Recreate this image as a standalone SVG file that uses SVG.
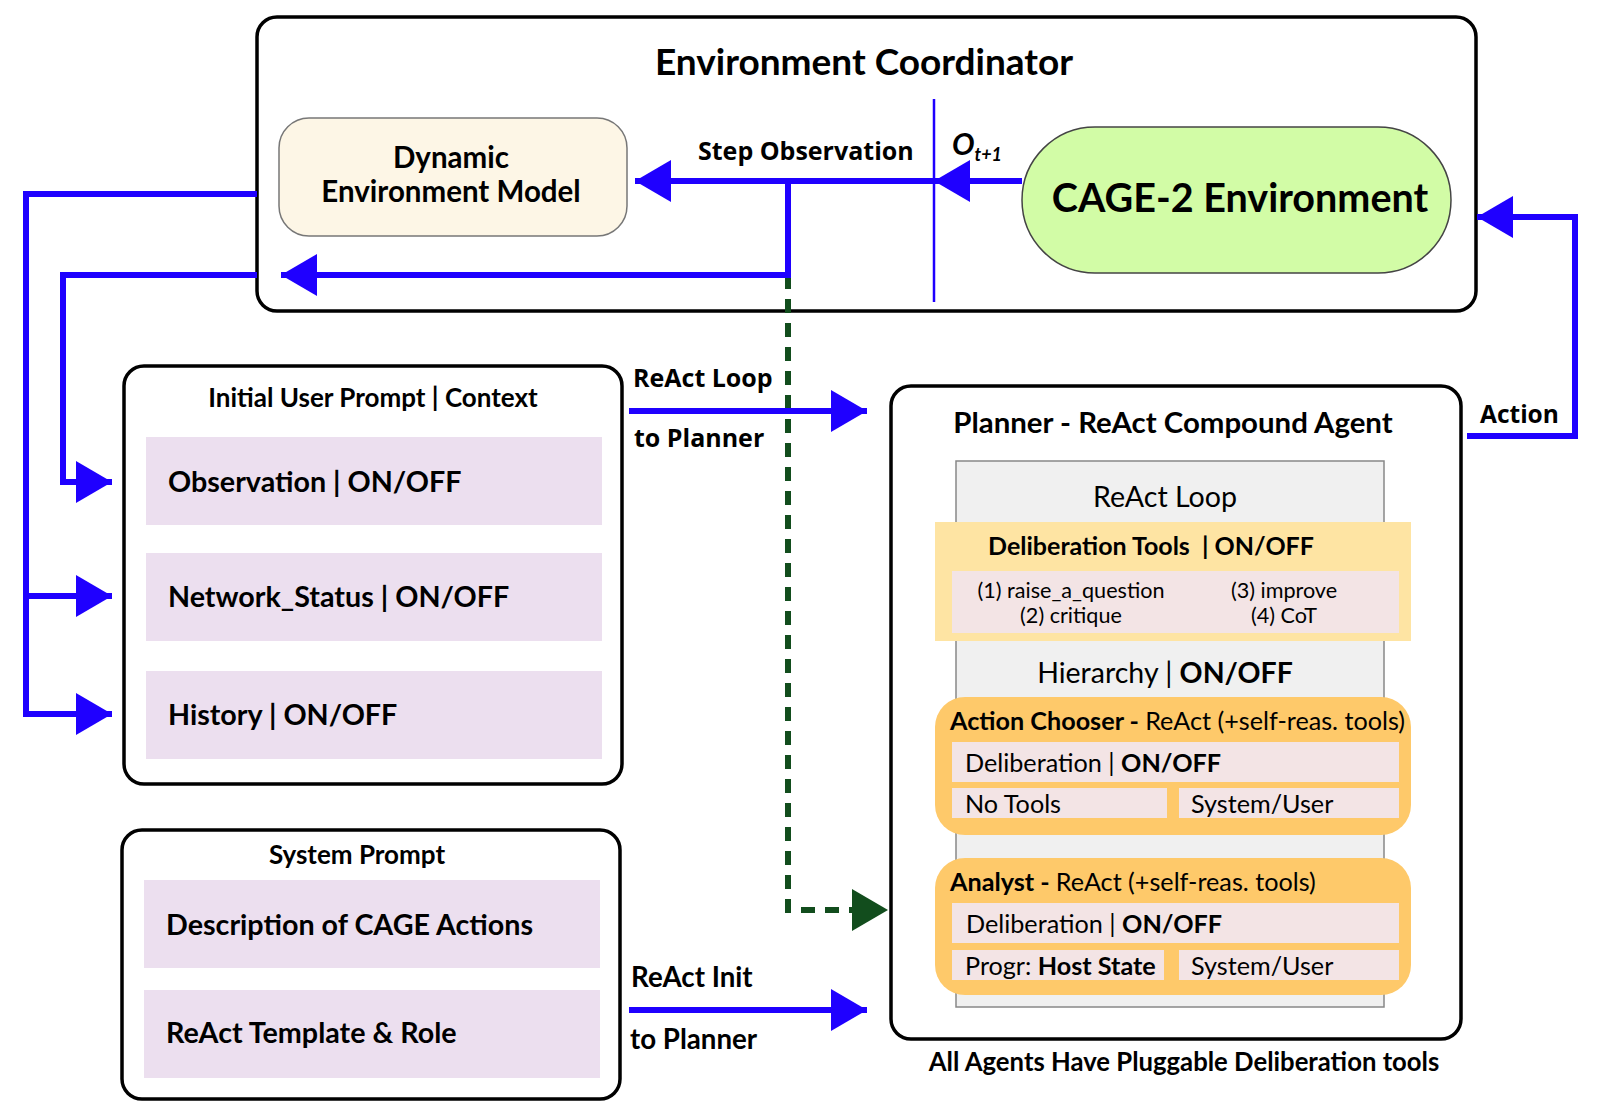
<svg xmlns="http://www.w3.org/2000/svg" width="1600" height="1115" viewBox="0 0 1600 1115">
<style>
.box{fill:#fff;stroke:#000;stroke-width:3.5}
.row{fill:#ecdfef}
.pink{fill:#f3e4e5}
.lato{font-family:Lato,"Open Sans",sans-serif}
.os{font-family:"Open Sans",Lato,sans-serif;font-weight:700}
.b{font-weight:700}
.conn{fill:none;stroke:#1f00ff;stroke-width:6}
.dash{fill:none;stroke:#124d1d;stroke-width:6;stroke-dasharray:14 10}
</style>
<defs>
<marker id="ah" viewBox="0 0 36 42" refX="36" refY="21" markerWidth="36" markerHeight="42" markerUnits="userSpaceOnUse" orient="auto"><path d="M0,0 L36,21 L0,42 Z" fill="#1f00ff"/></marker>
</defs>
<rect width="1600" height="1115" fill="#fff"/>

<g id="env-coordinator">
<rect class="box" x="257" y="17" width="1219" height="294" rx="20"/>
<text class="lato b" x="864" y="75" font-size="37" text-anchor="middle">Environment Coordinator</text>
<line x1="934" y1="99" x2="934" y2="302" stroke="#1f00ff" stroke-width="2.5"/>
<text class="lato b" x="952" y="155" font-size="30" font-style="italic">O<tspan font-size="18" dy="6">t+1</tspan></text>
<text class="os" x="698" y="160" font-size="25">Step Observation</text>
</g>

<g id="dynamic-env-model">
<rect x="279" y="118" width="348" height="118" rx="30" fill="#fdf6e6" stroke="#777" stroke-width="1.5"/>
<text class="lato b" x="451" y="168" font-size="29.5" text-anchor="middle">Dynamic</text>
<text class="lato b" x="451" y="202" font-size="29.5" text-anchor="middle">Environment Model</text>
</g>

<g id="cage2-env">
<rect x="1022" y="127" width="429" height="146" rx="73" fill="#d2fca6" stroke="#444" stroke-width="1.5"/>
<text class="lato b" x="1240" y="212" font-size="39.5" text-anchor="middle">CAGE-2 Environment</text>
</g>

<g id="initial-user-prompt">
<rect class="box" x="124" y="366" width="498" height="418" rx="20"/>
<text class="lato b" x="373" y="407" font-size="26" text-anchor="middle">Initial User Prompt | Context</text>
<rect class="row" x="146" y="437" width="456" height="88"/>
<text class="lato b" x="168" y="492" font-size="28.7">Observation | ON/OFF</text>
<rect class="row" x="146" y="553" width="456" height="88"/>
<text class="lato b" x="168" y="607" font-size="28.7">Network_Status | ON/OFF</text>
<rect class="row" x="146" y="671" width="456" height="88"/>
<text class="lato b" x="168" y="725" font-size="28.7">History | ON/OFF</text>
</g>

<g id="system-prompt">
<rect class="box" x="122" y="830" width="498" height="269" rx="20"/>
<text class="lato b" x="357" y="864" font-size="26" text-anchor="middle">System Prompt</text>
<rect class="row" x="144" y="880" width="456" height="88"/>
<text class="lato b" x="166" y="935" font-size="28.7">Description of CAGE Actions</text>
<rect class="row" x="144" y="990" width="456" height="88"/>
<text class="lato b" x="166" y="1043" font-size="28.7">ReAct Template &amp; Role</text>
</g>

<g id="planner">
<rect class="box" x="891" y="386" width="570" height="653" rx="20"/>
<text class="lato b" x="1173" y="433" font-size="29.4" text-anchor="middle">Planner - ReAct Compound Agent</text>
<rect x="956" y="461" width="428" height="546" fill="#f0f0f0" stroke="#888" stroke-width="1.5"/>
<text class="lato" x="1165" y="507" font-size="28.6" text-anchor="middle">ReAct Loop</text>
</g>

<g id="deliberation-tools">
<rect x="935" y="522" width="476" height="119" fill="#fee4a3"/>
<text class="lato b" x="1151" y="555" font-size="25" text-anchor="middle" xml:space="preserve">Deliberation Tools  | ON/OFF</text>
<rect class="pink" x="952" y="571" width="447" height="62"/>
<text class="lato" x="1071" y="598" font-size="21.6" text-anchor="middle">(1) raise_a_question</text>
<text class="lato" x="1071" y="623" font-size="21.6" text-anchor="middle">(2) critique</text>
<text class="lato" x="1284" y="598" font-size="21.6" text-anchor="middle">(3) improve</text>
<text class="lato" x="1284" y="623" font-size="21.6" text-anchor="middle">(4) CoT</text>
</g>

<g id="hierarchy">
<text class="lato" x="1165" y="683" font-size="28.5" text-anchor="middle">Hierarchy | <tspan font-weight="700">ON/OFF</tspan></text>
</g>

<g id="action-chooser">
<rect x="935" y="697" width="476" height="138" rx="30" fill="#fec96a"/>
<text class="lato" x="950" y="730" font-size="25.2"><tspan font-weight="700">Action Chooser - </tspan>ReAct (+self-reas. tools)</text>
<rect class="pink" x="952" y="742" width="447" height="40"/>
<text class="lato" x="965" y="772" font-size="25.2">Deliberation | <tspan font-weight="700">ON/OFF</tspan></text>
<rect class="pink" x="952" y="788" width="215" height="30"/>
<text class="lato" x="965" y="813" font-size="25.2">No Tools</text>
<rect class="pink" x="1179" y="788" width="220" height="30"/>
<text class="lato" x="1191" y="813" font-size="25.2">System/User</text>
</g>

<g id="analyst">
<rect x="935" y="858" width="476" height="137" rx="30" fill="#fec96a"/>
<text class="lato" x="950" y="891" font-size="25.2"><tspan font-weight="700">Analyst - </tspan>ReAct (+self-reas. tools)</text>
<rect class="pink" x="952" y="903" width="447" height="40"/>
<text class="lato" x="966" y="933" font-size="25.2">Deliberation | <tspan font-weight="700">ON/OFF</tspan></text>
<rect class="pink" x="952" y="950" width="212" height="30"/>
<text class="lato" x="965" y="975" font-size="25.2">Progr: <tspan font-weight="700">Host State</tspan></text>
<rect class="pink" x="1179" y="950" width="220" height="30"/>
<text class="lato" x="1191" y="975" font-size="25.2">System/User</text>
</g>

<g id="footer-note">
<text class="lato b" x="1184" y="1071" font-size="25.7" text-anchor="middle">All Agents Have Pluggable Deliberation tools</text>
</g>

<g id="connectors">
<path class="dash" d="M788,275 V910 H860"/>
<path d="M852,889 L888,910 L852,931 Z" fill="#124d1d"/>
<path class="conn" d="M1022,181 H934" marker-end="url(#ah)"/>
<path class="conn" d="M934,181 H635" marker-end="url(#ah)"/>
<path class="conn" d="M788,181 V275 H281" marker-end="url(#ah)"/>
<path class="conn" d="M257,194 H26 V714 H112" marker-end="url(#ah)"/>
<path class="conn" d="M26,596 H112" marker-end="url(#ah)"/>
<path class="conn" d="M257,275 H63 V482 H112" marker-end="url(#ah)"/>
<path class="conn" d="M629,411 H867" marker-end="url(#ah)"/>
<path class="conn" d="M629,1010 H867" marker-end="url(#ah)"/>
<path class="conn" d="M1467,436 H1575 V217 H1477" marker-end="url(#ah)"/>
<text class="os" x="633" y="387" font-size="25">ReAct Loop</text>
<text class="os" x="634" y="447" font-size="25">to Planner</text>
<text class="lato b" x="631" y="987" font-size="27.7">ReAct Init</text>
<text class="lato b" x="630" y="1049" font-size="27.7">to Planner</text>
<text class="os" x="1480" y="423" font-size="24.5">Action</text>
</g>
</svg>
